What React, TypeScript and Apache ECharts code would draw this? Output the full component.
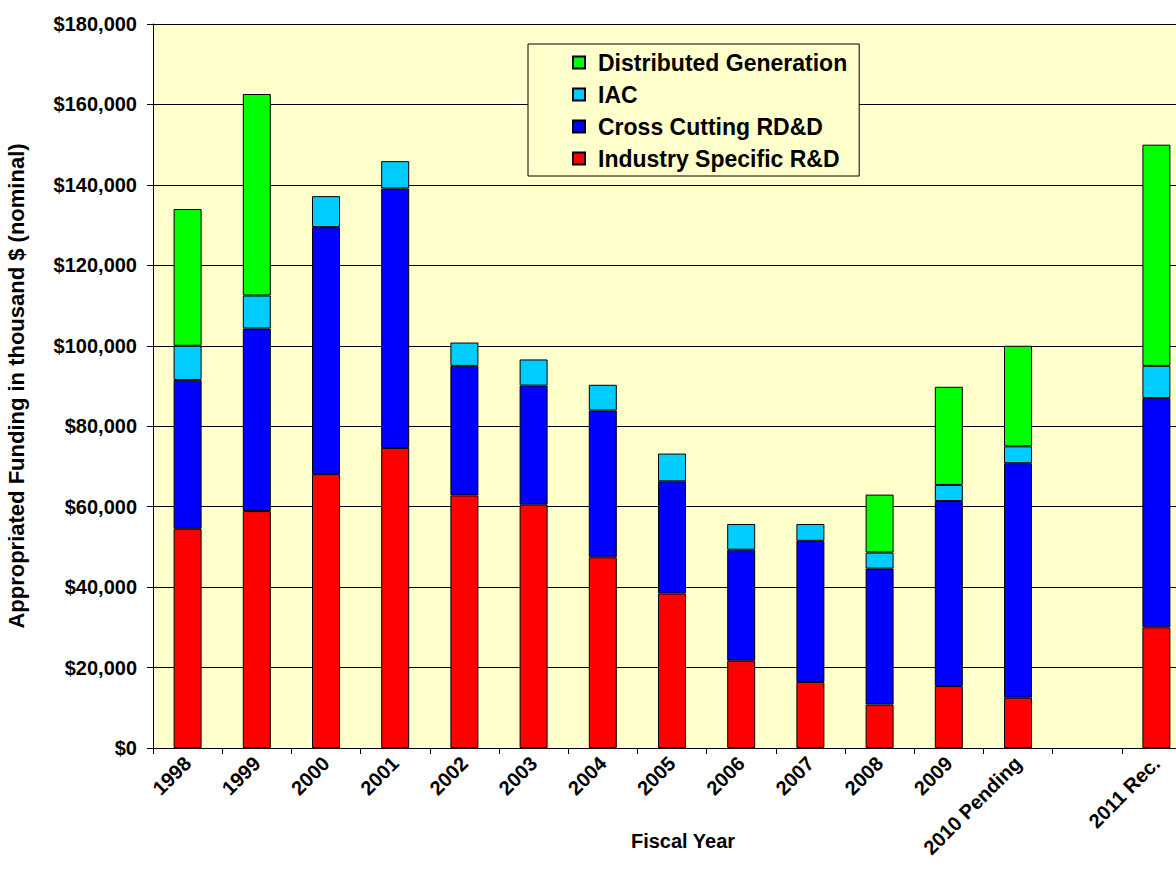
import React, { useEffect, useRef } from "react";
import * as echarts from "echarts";

const categories = ["1998", "1999", "2000", "2001", "2002", "2003", "2004", "2005", "2006", "2007", "2008", "2009", "2010 Pending", "", "2011 Rec."];
const industrySpecific = [54500, 58900, 68100, 74600, 62800, 60500, 47400, 38400, 21700, 16400, 10800, 15400, 12500, null, 30000];
const crossCutting = [37000, 45400, 61400, 64500, 32200, 29600, 36500, 27900, 27600, 35100, 33800, 46000, 58300, null, 57000];
const iac = [8500, 8200, 7700, 6800, 5800, 6500, 6400, 6900, 6400, 4200, 4000, 4000, 4200, null, 8000];
const distributedGen = [34000, 50100, 0, 0, 0, 0, 0, 0, 0, 0, 14400, 24400, 25000, null, 55000];
const yTicks = { min: 0, max: 180000, interval: 20000 };

const FONT = "'Liberation Sans', Arial, sans-serif";

export default function App() {
  const ref = useRef<HTMLDivElement>(null);
  useEffect(() => {
    document.body.style.margin = "0";
    document.body.style.overflow = "hidden";
    const chart = echarts.init(ref.current!, null, { renderer: "svg" });
    const mk = (name: string, data: (number | null)[], color: string) => ({
      name,
      type: "bar",
      stack: "total",
      data: data.map((v) => (v === 0 ? null : v)),
      barWidth: 28,
      itemStyle: { color, borderColor: "#000", borderWidth: 1 },
    });
    chart.setOption({
      animation: false,
      textStyle: { fontFamily: FONT },
      grid: {
        left: 153,
        top: 24,
        bottom: 128,
        right: -15,
        containLabel: false,
        outerBoundsMode: "none",
        show: true,
        backgroundColor: "#FFFFCC",
        borderWidth: 0,
      },
      legend: {
        orient: "vertical",
        left: 528,
        top: 44,
        icon: "rect",
        data: ["Distributed Generation", "IAC", "Cross Cutting RD&D", "Industry Specific R&D"],
        itemWidth: 12,
        itemHeight: 12,
        itemGap: 9,
        padding: [7, 12, 6, 44],
        backgroundColor: "#FFFFCC",
        borderColor: "#000",
        borderWidth: 1,
        textStyle: { fontSize: 23, fontWeight: "bold", color: "#000", fontFamily: FONT, padding: [0, 0, 0, 8] },
      },
      xAxis: {
        type: "category",
        data: categories,
        name: "Fiscal Year",
        nameLocation: "middle",
        nameGap: 83,
        nameMoveOverlap: false,
        nameTextStyle: { fontSize: 20, fontWeight: "bold", color: "#000", padding: [0, 0, 0, 22] },
        axisLine: { lineStyle: { color: "#000" } },
        axisTick: { show: true, length: 6, lineStyle: { color: "#000" } },
        axisLabel: {
          interval: 0,
          rotate: 45,
          fontSize: 20,
          fontWeight: "bold",
          color: "#000",
          margin: 12,
        },
      },
      yAxis: {
        type: "value",
        min: yTicks.min,
        max: yTicks.max,
        interval: yTicks.interval,
        name: "Appropriated Funding in thousand $ (nominal)",
        nameLocation: "middle",
        nameGap: 126,
        nameMoveOverlap: false,
        nameTextStyle: { fontSize: 22, fontWeight: "bold", color: "#000" },
        axisLine: { show: true, lineStyle: { color: "#000" } },
        axisTick: { show: true, length: 6, lineStyle: { color: "#000" } },
        axisLabel: {
          fontSize: 20,
          fontWeight: "bold",
          color: "#000",
          margin: 16,
          formatter: (v: number) => "$" + String(v).replace(/\B(?=(\d{3})+(?!\d))/g, ","),
        },
        splitLine: { show: true, lineStyle: { color: "#000", width: 1 } },
      },
      series: [
        mk("Industry Specific R&D", industrySpecific, "#FF0000"),
        mk("Cross Cutting RD&D", crossCutting, "#0000FF"),
        mk("IAC", iac, "#00CCFF"),
        mk("Distributed Generation", distributedGen, "#00FF00"),
      ],
    });
    return () => chart.dispose();
  }, []);
  return <div ref={ref} style={{ width: 1176, height: 876 }} />;
}
